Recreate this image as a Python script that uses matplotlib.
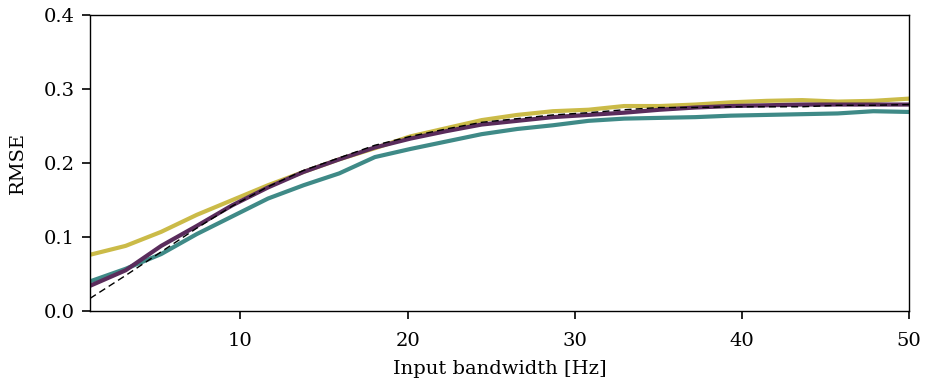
import numpy as np
import matplotlib
matplotlib.use('Agg')
import matplotlib.pyplot as plt

# input bandwidth samples [Hz]
bandwidth = np.linspace(1, 50, 24)

rmse_yellow = [0.076, 0.088, 0.107, 0.130, 0.150, 0.170, 0.188, 0.205, 0.220, 0.236,
               0.247, 0.258, 0.265, 0.270, 0.272, 0.277, 0.277, 0.279, 0.282, 0.284,
               0.285, 0.283, 0.284, 0.287]
rmse_teal = [0.040, 0.057, 0.077, 0.104, 0.128, 0.152, 0.170, 0.186, 0.208, 0.219,
             0.229, 0.239, 0.246, 0.251, 0.257, 0.260, 0.261, 0.262, 0.264, 0.265,
             0.266, 0.267, 0.270, 0.269]
rmse_purple = [0.034, 0.055, 0.088, 0.115, 0.143, 0.167, 0.188, 0.205, 0.221, 0.233,
               0.243, 0.252, 0.257, 0.262, 0.265, 0.268, 0.272, 0.275, 0.277, 0.278,
               0.279, 0.279, 0.279, 0.279]
rmse_ref = [0.017, 0.048, 0.080, 0.112, 0.142, 0.168, 0.190, 0.207, 0.224, 0.236,
            0.246, 0.255, 0.260, 0.265, 0.268, 0.272, 0.275, 0.275, 0.276, 0.276,
            0.276, 0.278, 0.278, 0.279]

plt.rcParams['font.family'] = ['DejaVu Serif']
plt.rcParams['font.size'] = 14

fig = plt.figure(figsize=(9.25, 3.89), dpi=100)
ax = fig.add_axes([0.0973, 0.2005, 0.8854, 0.7609])

ax.plot(bandwidth, rmse_yellow, color='#cbbb48', lw=3.0)
ax.plot(bandwidth, rmse_teal, color='#3f8a87', lw=3.0)
ax.plot(bandwidth, rmse_purple, color='#5a2c5c', lw=3.0)
ax.plot(bandwidth, rmse_ref, color='black', lw=1.0, ls=(0, (5, 3)))

ax.set_xlim(1, 50)
ax.set_ylim(0, 0.4)
ax.set_xticks([10, 20, 30, 40, 50])
ax.set_yticks([0.0, 0.1, 0.2, 0.3, 0.4])
ax.set_yticklabels(['0.0', '0.1', '0.2', '0.3', '0.4'])
ax.tick_params(direction='out', length=6, width=1.2, labelsize=14)
ax.tick_params(axis='x', pad=9)
ax.tick_params(axis='y', pad=5)
for s in ax.spines.values():
    s.set_linewidth(1.0)

ax.set_xlabel('Input bandwidth [Hz]', fontsize=14, labelpad=7)
ax.set_ylabel('RMSE', fontsize=14, labelpad=12)

fig.savefig('out.png', dpi=100)
